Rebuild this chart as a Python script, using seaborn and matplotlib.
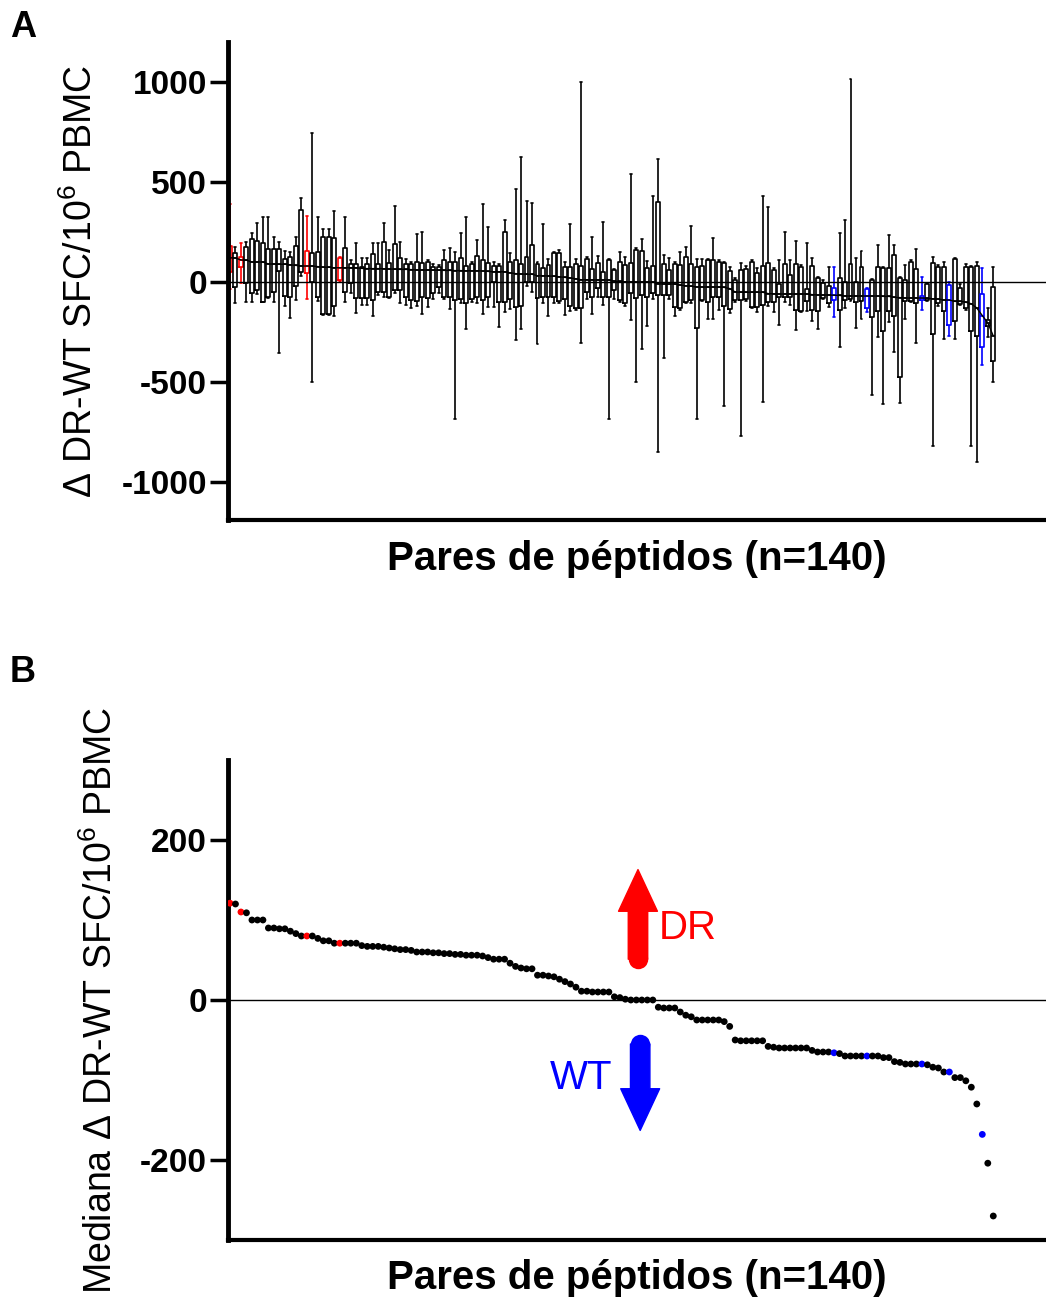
import numpy as np
import pandas as pd
import matplotlib
matplotlib.use("Agg")
import matplotlib.pyplot as plt
import seaborn as sns

# ---- data ----
medians = [121, 120, 110, 109, 100, 100, 100, 90, 90, 89, 89, 86, 83, 80, 80, 80, 77, 74, 74, 71,
           71, 71, 71, 71, 68, 67, 67, 67, 66, 65, 64, 63, 63, 62, 60, 60, 60, 59, 59, 58,
           58, 57, 57, 56, 56, 56, 55, 53, 51, 51, 51, 46, 42, 40, 39, 39, 31, 31, 30, 29,
           26, 23, 20, 16, 11, 11, 10, 10, 10, 10, 4, 3, 1, 0, 0, 0, 0, 0, -9, -10,
           -10, -10, -15, -19, -21, -25, -25, -25, -25, -25, -27, -33, -50, -51, -51, -51, -51, -51, -58, -59,
           -60, -60, -60, -60, -60, -60, -63, -65, -65, -65, -66, -67, -70, -70, -70, -70, -70, -70, -70, -72,
           -72, -77, -78, -80, -80, -80, -80, -81, -84, -85, -90, -90, -97, -97, -101, -109, -130, -168, -204, -270]
q3 = [180, 147, 127, 173, 213, 205, 193, 165, 163, 163, 113, 123, 182, 360, 157, 147, 148, 223, 223, 222,
      118, 168, 90, 90, 73, 90, 140, 90, 202, 93, 188, 118, 90, 90, 102, 97, 102, 77, 77, 110,
      102, 102, 118, 82, 90, 132, 110, 97, 80, 82, 252, 102, 110, 90, 123, 185, 90, 68, 85, 143,
      147, 77, 77, 90, 80, 113, 63, 93, 52, 110, 60, 98, 85, 93, 160, 157, 68, 80, 398, 90,
      60, 90, 85, 123, 90, 73, 80, 110, 110, 102, 93, 57, 10, 60, 63, 102, 43, 80, 93, 60,
      -10, 90, 35, 90, 73, -37, 80, 18, -7, -20, -32, 18, 2, 90, 2, 73, -37, 10, 77, 68,
      68, 135, 18, 10, 102, 63, -70, -10, 93, 73, 73, -15, 113, -32, 77, 73, 80, -60, -190, -23]
q1 = [52, -23, 77, -3, -57, -40, -98, -73, -52, 57, -70, -73, -18, 48, 43, 2, -73, -160, -160, -118,
      10, -52, -3, -82, -82, -82, -90, -48, -48, -77, -40, -40, -73, -90, -93, -77, -82, -57, -23, -77,
      -73, -90, -87, -103, -87, -77, -90, -77, 2, -98, -98, -87, -123, -120, 2, 1, -82, -73, -77, -77,
      -93, -87, -120, -132, -132, -48, -73, -32, -73, -73, -40, -90, -103, -53, -82, -65, -73, -57, -65, -65,
      -65, -123, -132, -98, -90, -232, -90, -98, -77, -73, -120, -137, -90, -90, -87, -127, -123, -115, -98, -98,
      -75, -77, -73, -140, -143, -93, -140, -143, -82, -103, -90, -140, -90, -87, -98, -93, -132, -177, -143, -243,
      -143, -170, -473, -93, -93, -107, -90, -90, -262, -107, -143, -215, -193, -110, -132, -243, -270, -327, -220, -393]
whisk_hi = [388, 173, 193, 202, 243, 293, 327, 323, 227, 202, 155, 152, 227, 422, 330, 743, 327, 263, 263, 355,
            127, 323, 110, 193, 118, 118, 193, 193, 293, 160, 382, 202, 113, 102, 240, 252, 110, 90, 85, 160,
            168, 152, 243, 327, 100, 210, 390, 277, 100, 90, 310, 143, 463, 623, 407, 393, 100, 290, 113, 152,
            160, 102, 290, 113, 998, 127, 227, 130, 302, 113, 63, 152, 123, 540, 170, 213, 107, 430, 613, 135,
            118, 102, 152, 173, 280, 113, 113, 115, 222, 110, 100, 73, 20, 93, 80, 110, 68, 430, 373, 68,
            110, 252, 110, 207, 85, 193, 118, 25, 10, 73, 77, 243, 310, 1013, 118, 157, -32, 15, 185, 77,
            235, 185, 25, 85, 110, 163, 23, -5, 127, 85, 102, 2, 120, -10, 90, 80, 102, 68, -132, 73]
whisk_lo = [-37, -107, -7, -98, -98, -60, -100, -82, -98, -354, -118, -182, -90, 30, -87, -498, -95, -165, -165, -170,
            0, -98, -53, -153, -115, -115, -170, -65, -73, -80, -57, -107, -115, -132, -120, -160, -123, -87, -57, -87,
            -137, -687, -103, -237, -98, -103, -160, -127, -127, -227, -148, -137, -290, -237, -20, -48, -310, -107, -170, -103,
            -107, -165, -143, -140, -307, -87, -160, -73, -115, -687, -87, -98, -120, -190, -498, -337, -220, -87, -849, -378,
            -87, -170, -140, -107, -107, -687, -93, -187, -187, -140, -620, -153, -98, -770, -93, -130, -148, -598, -120, -148,
            -215, -98, -115, -240, -150, -143, -193, -237, -87, -123, -177, -327, -132, -95, -232, -187, -148, -565, -273, -610,
            -198, -348, -607, -187, -100, -303, -140, -95, -820, -120, -287, -270, -287, -115, -140, -820, -898, -415, -273, -498]
dr_pairs = [0, 2, 14, 20]
wt_pairs = [110, 116, 126, 131, 137]
yticks_a = [-1000, -500, 0, 500, 1000]
yticks_b = [-200, 0, 200]

n = len(medians)
pairs = np.arange(n)
grupo = ["DR" if i in dr_pairs else ("WT" if i in wt_pairs else "ns") for i in range(n)]
palette = {"DR": "#ff0000", "WT": "#0000ff", "ns": "black"}

rows = []
for i in range(n):
    for v in (whisk_lo[i], q1[i], medians[i], q3[i], whisk_hi[i]):
        rows.append({"par": i, "delta": v, "grupo": grupo[i]})
df_box = pd.DataFrame(rows)
df_med = pd.DataFrame({"par": pairs, "mediana": medians, "grupo": grupo})

# ---- style ----
sns.set_style("ticks")
plt.rcParams["font.family"] = ["Liberation Sans", "DejaVu Sans"]
plt.rcParams["mathtext.default"] = "regular"
plt.rcParams["axes.unicode_minus"] = False
for key in ("text.color", "axes.labelcolor", "xtick.color", "ytick.color", "axes.edgecolor"):
    plt.rcParams[key] = "black"

W, H = 1046, 1303
fig = plt.figure(figsize=(W / 100, H / 100), dpi=100)
ax_a = fig.add_axes([228 / W, 1 - 520 / H, 1 - 228 / W, (520 - 42) / H])
ax_b = fig.add_axes([228 / W, 1 - 1240 / H, 1 - 228 / W, (1240 - 760) / H])

xlim = (-0.36, 148.6)

# Panel A: boxplots
sns.boxplot(data=df_box, x="par", y="delta", hue="grupo", palette=palette,
            native_scale=True, dodge=False, fill=False, whis=(0, 100),
            width=0.72, linewidth=1.2, legend=False, ax=ax_a)
sns.lineplot(x=pairs, y=medians, color="black", linewidth=1.0, ax=ax_a, zorder=3)
ax_a.axhline(0, color="black", linewidth=1.0, zorder=3)
ax_a.set_xlim(*xlim)
ax_a.set_ylim(-1190, 1200)
ax_a.set_yticks(yticks_a)

# Panel B: medians
sns.scatterplot(data=df_med, x="par", y="mediana", hue="grupo", palette=palette,
                s=24, linewidth=0, legend=False, ax=ax_b, zorder=3)
ax_b.axhline(0, color="black", linewidth=1.0, zorder=2)
ax_b.set_xlim(*xlim)
ax_b.set_ylim(-300, 300)
ax_b.set_yticks(yticks_b)

ylabel = "\u0394 DR-WT SFC/10$^{6}$ PBMC"
xlabel = "Pares de péptidos (n=140)"

for ax in (ax_a, ax_b):
    sns.despine(ax=ax)
    ax.spines["left"].set_linewidth(3.5)
    ax.spines["bottom"].set_linewidth(3)
    ax.set_xticks([])
    ax.tick_params(axis="y", length=13, width=2.5, labelsize=24, pad=2)
    for lbl in ax.get_yticklabels():
        lbl.set_fontweight("bold")
    ax.set_xlabel(xlabel, fontsize=29, fontweight="bold")

ax_a.set_ylabel(ylabel, fontsize=27)
ax_b.set_ylabel("Mediana " + ylabel, fontsize=27)
ax_a.yaxis.set_label_coords((100 - 228) / 818, 0.5)
ax_b.yaxis.set_label_coords((120 - 228) / 818, 0.5)
ax_a.xaxis.set_label_coords(0.5, (520 - 540) / 478)
ax_b.xaxis.set_label_coords(0.5, (1240 - 1259) / 480)

# arrows and labels in panel B
arrow_x_dr, arrow_x_wt = 74.3, 74.7
ax_b.annotate("", xy=(arrow_x_dr, 163), xytext=(arrow_x_dr, 51),
              arrowprops=dict(width=14, headwidth=28, headlength=30, color="#ff0000", shrink=0))
ax_b.plot([arrow_x_dr], [51], "o", ms=14, color="#ff0000", mew=0)
ax_b.annotate("", xy=(arrow_x_wt, -163), xytext=(arrow_x_wt, -55),
              arrowprops=dict(width=14, headwidth=28, headlength=30, color="#0000ff", shrink=0))
ax_b.plot([arrow_x_wt], [-55], "o", ms=14, color="#0000ff", mew=0)
ax_b.text(78, 90, "DR", color="#ff0000", fontsize=29, ha="left", va="center")
ax_b.text(69.6, -97, "WT", color="#0000ff", fontsize=29, ha="right", va="center")

fig.text(10 / W, 1 - 10 / H, "A", fontsize=26, fontweight="bold", ha="left", va="top")
fig.text(10 / W, 1 - 655 / H, "B", fontsize=26, fontweight="bold", ha="left", va="top")

fig.savefig("out.png", dpi=100)
